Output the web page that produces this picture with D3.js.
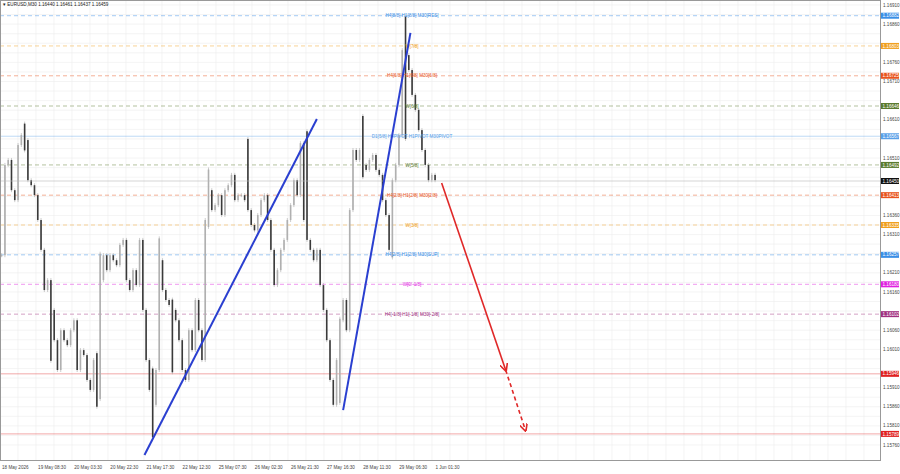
<!DOCTYPE html>
<html>
<head>
<meta charset="utf-8">
<script src="https://d3js.org/d3.v7.min.js"></script>
<style>
  body { margin: 0; background: #fff; font-family: "Liberation Sans", sans-serif; }
  svg text { font-size: 4.6px; }
</style>
</head>
<body>
<svg width="900" height="474"></svg>
<script>
// closes, one per bar
const closes = [
  1.16256, 1.16492, 1.16505, 1.16426, 1.16400, 1.16544, 1.16570, 1.16557, 1.16452, 1.16439,
  1.16413, 1.16348, 1.16270, 1.16165, 1.16191, 1.16113, 1.16034, 1.15956, 1.16060, 1.16034,
  1.16021, 1.16060, 1.16086, 1.15956, 1.16008, 1.15995, 1.15930, 1.15904, 1.15982, 1.15904,
  1.16191, 1.16256, 1.16217, 1.16256, 1.16243, 1.16230, 1.16283, 1.16296, 1.16191, 1.16165,
  1.16217, 1.16178, 1.16296, 1.16113, 1.15982, 1.15904, 1.15865, 1.15956,
  1.16243, 1.16165, 1.16139, 1.16126, 1.16113, 1.16086, 1.16034, 1.15956, 1.15930, 1.16060,
  1.16008, 1.16139, 1.16060, 1.15982, 1.16348, 1.16426, 1.16374, 1.16387, 1.16413, 1.16361,
  1.16426, 1.16439, 1.16466, 1.16400, 1.16413, 1.16413, 1.16400, 1.16374, 1.16335, 1.16321,
  1.16361, 1.16400, 1.16413, 1.16348, 1.16270, 1.16178, 1.16217, 1.16270, 1.16296, 1.16348,
  1.16387, 1.16452, 1.16413, 1.16549, 1.16348, 1.16296, 1.16270, 1.16243, 1.16270, 1.16178,
  1.16113, 1.16034, 1.15930, 1.15865, 1.15982, 1.16086, 1.16139, 1.16060, 1.16374, 1.16531,
  1.16505, 1.16531, 1.16492, 1.16479, 1.16505, 1.16518, 1.16479, 1.16466, 1.16400, 1.16361,
  1.16270, 1.16452, 1.16492, 1.16570, 1.16792, 1.16779, 1.16740, 1.16675, 1.16636, 1.16583,
  1.16531, 1.16492, 1.16452, 1.16466, 1.16452
];
// notable wicks: [bar, high, low]
const wicks = [
  [7, 1.16600, 1.16530], [15, 1.16150, 1.15980], [29, 1.16000, 1.15860], [30, 1.16260, 1.15880],
  [46, 1.15960, 1.15780], [48, 1.16300, 1.16180], [52, 1.16140, 1.15950], [63, 1.16480, 1.16330],
  [75, 1.16560, 1.16400], [93, 1.16580, 1.16300], [103, 1.16090, 1.15870], [110, 1.16620, 1.16460],
  [119, 1.16350, 1.16250], [123, 1.16880, 1.16560]
];
const timeLabels = ["18 May 2026", "19 May 08:30", "20 May 03:30", "20 May 22:30", "21 May 17:30",
  "22 May 12:30", "25 May 07:30", "26 May 02:30", "26 May 21:30", "27 May 16:30", "28 May 11:30",
  "29 May 06:30", "1 Jun 01:30"];
const levelPrices = [1.16882, 1.16803, 1.16725, 1.16646, 1.16567, 1.16492, 1.16413, 1.16335,
  1.16257, 1.16180, 1.16102, 1.15946, 1.15789];
const levelNames = ["H4[8/8] H1[8/8] M30[RES]", "W[7/8]", "H4[6/8] H1[6/8] M30[6/8]", "W[6/8]",
  "D1[5/8] H4PIVOT H1PIVOT M30PIVOT", "W[5/8]", "H4[2/8] H1[2/8] M30[2/8]", "W[3/8]",
  "H4[2/8] H1[2/8] M30[SUP]", "W[0/-1/8]", "H4[-1/8] H1[-1/8] M30[-2/8]", "", ""];
const levelColors = ["#3a8ee6", "#f0a020", "#e8541e", "#5b7a2e", "#5aa0e8", "#5b7a2e", "#e8541e",
  "#f0a020", "#3a8ee6", "#e020e0", "#a0307f", "#e02020", "#e02020"];
const levelSolid = [false, false, false, false, true, false, false, false, false, false, false, true, true];
const lastPrice = 1.16450;
const trendLines = [[[44, 1.15734], [96.5, 1.16612]], [[104.5, 1.15851], [125, 1.16837]]];
const forecast = [[134.5, 1.16445], [154, 1.15956], [160, 1.15799]];

const svg = d3.select("svg");
const W = 880, H = 460, totalBars = 268;
const x = d3.scaleLinear().domain([0, totalBars]).range([0, W]);
const y = d3.scaleLinear().domain([1.15760, 1.16910]).range([445, 5]);

// grid
const g = svg.append("g");
g.selectAll(".vg").data(d3.range(0, W, 18)).join("line")
  .attr("x1", d => d).attr("x2", d => d).attr("y1", 0).attr("y2", H)
  .attr("stroke", "#ececec").attr("stroke-width", 0.6);
const priceTicks = d3.range(115760, 116911, 25).map(d => d / 100000);
g.selectAll(".hg").data(priceTicks).join("line")
  .attr("x1", 0).attr("x2", W).attr("y1", d => y(d)).attr("y2", d => y(d))
  .attr("stroke", "#ececec").attr("stroke-width", 0.6);

// levels
levelPrices.forEach((p, i) => {
  g.append("line").attr("x1", 0).attr("x2", W).attr("y1", y(p)).attr("y2", y(p))
    .attr("stroke", levelColors[i]).attr("stroke-width", 0.7).attr("opacity", levelSolid[i] ? 0.55 : 0.65)
    .attr("stroke-dasharray", levelSolid[i] ? null : "4,3");
});

// bars
const bars = closes.map((c, i) => {
  const o = i ? closes[i - 1] : c;
  return { i, o, c, h: Math.max(o, c), l: Math.min(o, c) };
});
wicks.forEach(([i, h, l]) => { bars[i].h = Math.max(bars[i].h, h); bars[i].l = Math.min(bars[i].l, l); });
const bw = x(1) - x(0);
g.selectAll(".wk").data(bars).join("line")
  .attr("x1", d => x(d.i) + bw / 2).attr("x2", d => x(d.i) + bw / 2)
  .attr("y1", d => y(d.h) - 2).attr("y2", d => y(d.l) + 2)
  .attr("stroke", "#aaa").attr("stroke-width", 0.6);
g.selectAll(".bd").data(bars).join("rect")
  .attr("x", d => x(d.i) + bw / 2 - 0.8).attr("width", 1.6)
  .attr("y", d => y(d.h)).attr("height", d => Math.max(1, y(d.l) - y(d.h)))
  .attr("fill", d => d.c >= d.o ? "#b0b0b0" : "#3a3a3a");

levelPrices.forEach((p, i) => {
  if (levelNames[i]) g.append("text").attr("x", 412).attr("y", y(p) + 1.6).attr("text-anchor", "middle")
    .attr("fill", levelColors[i]).text(levelNames[i]);
});

// current price line
g.append("line").attr("x1", 0).attr("x2", W).attr("y1", y(lastPrice)).attr("y2", y(lastPrice))
  .attr("stroke", "#bbb").attr("stroke-width", 0.6);

// trend lines
trendLines.forEach(t => g.append("line")
  .attr("x1", x(t[0][0])).attr("y1", y(t[0][1])).attr("x2", x(t[1][0])).attr("y2", y(t[1][1]))
  .attr("stroke", "#2a3fd0").attr("stroke-width", 2));

// forecast arrow
svg.append("defs").append("marker").attr("id", "ah").attr("viewBox", "0 0 10 10")
  .attr("refX", 8).attr("refY", 5).attr("markerWidth", 5).attr("markerHeight", 5).attr("orient", "auto")
  .append("path").attr("d", "M0,0L10,5L0,10").attr("fill", "none").attr("stroke", "#e02828").attr("stroke-width", 2);
forecast.slice(1).forEach((p, k) => g.append("line")
  .attr("x1", x(forecast[k][0])).attr("y1", y(forecast[k][1])).attr("x2", x(p[0])).attr("y2", y(p[1]))
  .attr("stroke", "#e02828").attr("stroke-width", 1.6).attr("stroke-dasharray", k ? "4,3" : null)
  .attr("marker-end", "url(#ah)"));

// frame
svg.append("rect").attr("x", 0.5).attr("y", 0.5).attr("width", W).attr("height", H)
  .attr("fill", "none").attr("stroke", "#999");

// right axis
const ax = svg.append("g");
const tagPrices = levelPrices.concat([lastPrice]);
const axisTicks = d3.range(115760, 116911, 50).map(d => d / 100000)
  .filter(t => tagPrices.every(p => Math.abs(y(p) - y(t)) > 5.5));
ax.selectAll("text").data(axisTicks).join("text")
  .attr("x", W + 3).attr("y", d => y(d) + 1.6).attr("fill", "#444").text(d => d.toFixed(5));
tagPrices.forEach((p, i) => {
  const col = i < levelPrices.length ? levelColors[i] : "#111";
  ax.append("rect").attr("x", W + 1).attr("y", y(p) - 3).attr("width", 18).attr("height", 6).attr("fill", col);
  ax.append("text").attr("x", W + 2.5).attr("y", y(p) + 1.6).attr("fill", "#fff").text(p.toFixed(5));
});

// time axis
svg.selectAll(".tl").data(timeLabels).join("text")
  .attr("x", (d, i) => x(i * 11) + 2).attr("y", 469).attr("fill", "#444").text(d => d);

svg.append("text").attr("x", 3).attr("y", 6).attr("fill", "#222").text("▾ EURUSD,M30  1.16440 1.16461 1.16437 1.16459");
</script>
</body>
</html>
